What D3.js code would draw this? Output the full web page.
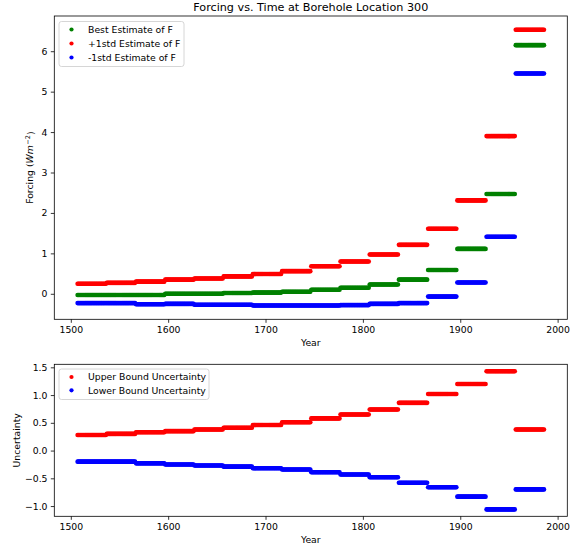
<!DOCTYPE html>
<html><head><meta charset="utf-8">
<script src="https://cdn.jsdelivr.net/npm/d3@7"></script>
<style>
body{margin:0;background:#fff}
svg{display:block;font-family:"DejaVu Sans",sans-serif}
</style>
</head><body>
<svg id="c" width="578" height="548"></svg>
<script>
// ---- data ----
const segmentStarts = [1507,1537,1567,1597,1627,1657,1687,1717,1747,1777,1807,1837,1867,1897,1927,1957];
const yearsPerSegment = 30;
const bestEstimate  = [-0.03,-0.03,-0.03,0.00,0.00,0.02,0.03,0.05,0.10,0.15,0.23,0.35,0.59,1.11,2.47,6.15];
const plusStd       = [0.25,0.27,0.30,0.35,0.38,0.43,0.49,0.56,0.68,0.80,0.97,1.21,1.61,2.31,3.90,6.53];
const minusStd      = [-0.23,-0.23,-0.26,-0.25,-0.27,-0.27,-0.29,-0.29,-0.29,-0.28,-0.25,-0.23,-0.07,0.28,1.41,5.45];
const upperUncert   = [0.28,0.30,0.33,0.35,0.38,0.41,0.46,0.51,0.58,0.65,0.74,0.86,1.02,1.20,1.43,0.38];
const lowerUncert   = [-0.20,-0.20,-0.23,-0.25,-0.27,-0.29,-0.32,-0.34,-0.39,-0.43,-0.48,-0.58,-0.66,-0.83,-1.06,-0.70];
const xTicks = [1500,1600,1700,1800,1900,2000];
const topYTicks = [0,1,2,3,4,5,6];
const bottomYTicks = [-1.0,-0.5,0.0,0.5,1.0,1.5];
const titleText = "Forcing vs. Time at Borehole Location 300";
const topLegend = ["Best Estimate of F","+1std Estimate of F","-1std Estimate of F"];
const bottomLegend = ["Upper Bound Uncertainty","Lower Bound Uncertainty"];

const GREEN="#008000", RED="#ff0000", BLUE="#0000ff";
const FS="9.3px";

// expand step levels to yearly points
function expand(levels){
  const pts=[];
  segmentStarts.forEach((s,i)=>{
    for(let k=0;k<yearsPerSegment;k++) pts.push([s+k, levels[i]]);
  });
  return pts;
}
function padded(arrs){
  const all=arrs.flat();
  const lo=d3.min(all), hi=d3.max(all), p=(hi-lo)*0.05;
  return [lo-p, hi+p];
}

const svg=d3.select("#c");
const L=54.3, R=567.3;
const firstYear=segmentStarts[0], lastYear=segmentStarts[segmentStarts.length-1]+yearsPerSegment-1;
const xPad=(lastYear-firstYear)*0.05;
const xDomain=[firstYear-xPad,lastYear+xPad];

function panel(top,bottom,series,yDomain,yTicks,fmt,legend,legendBox,ylabelX,ylabel){
  const x=d3.scaleLinear().domain(xDomain).range([L,R]);
  const y=d3.scaleLinear().domain(yDomain).range([bottom,top]);
  const g=svg.append("g");
  const clip="clip"+Math.round(top);
  svg.append("clipPath").attr("id",clip).append("rect").attr("x",L).attr("y",top).attr("width",R-L).attr("height",bottom-top);
  const pg=g.append("g").attr("clip-path",`url(#${clip})`);
  series.forEach(s=>{
    pg.append("g").selectAll("circle").data(expand(s.values)).join("circle")
      .attr("cx",d=>x(d[0])).attr("cy",d=>y(d[1])).attr("r",2.3).attr("fill",s.color);
  });
  const xa=g.append("g").attr("transform",`translate(0,${bottom})`)
    .call(d3.axisBottom(x).tickValues(xTicks).tickFormat(d3.format("d")).tickSize(3.5).tickPadding(3.3));
  const ya=g.append("g").attr("transform",`translate(${L},0)`)
    .call(d3.axisLeft(y).tickValues(yTicks).tickFormat(fmt).tickSize(3.5).tickPadding(3.3));
  [xa,ya].forEach(a=>{
    a.select(".domain").remove();
    a.selectAll("line").attr("stroke","#000").attr("stroke-width",0.8);
    a.selectAll("text").attr("font-size",FS).attr("fill","#000").attr("font-family","DejaVu Sans");
  });
  g.append("rect").attr("x",L).attr("y",top).attr("width",R-L).attr("height",bottom-top)
    .attr("fill","none").attr("stroke","#000").attr("stroke-width",0.8);
  // legend
  const lg=g.append("g");
  lg.append("rect").attr("x",legendBox.x).attr("y",legendBox.y).attr("width",legendBox.w).attr("height",legendBox.h)
    .attr("rx",2.5).attr("fill","#fff").attr("fill-opacity",0.8).attr("stroke","#cccccc").attr("stroke-width",0.8);
  legend.forEach((t,i)=>{
    const yy=legendBox.y+legendBox.r0+i*legendBox.dy;
    lg.append("circle").attr("cx",legendBox.x+12.5).attr("cy",yy).attr("r",2.1).attr("fill",series[i].color);
    lg.append("text").attr("x",legendBox.x+29).attr("y",yy).attr("dy","0.35em")
      .attr("font-size",FS).attr("fill","#000").text(t);
  });
  // labels
  g.append("text").attr("x",(L+R)/2).attr("y",bottom+23.5).attr("dy","0.35em").attr("text-anchor","middle")
    .attr("font-size",FS).attr("fill","#000").text("Year");
  const yl=g.append("text").attr("transform",`translate(${ylabelX},${(top+bottom)/2}) rotate(-90)`)
    .attr("text-anchor","middle").attr("dy","0.35em").attr("font-size",FS).attr("fill","#000");
  ylabel(yl);
}

svg.append("text").attr("x",(L+R)/2).attr("y",7.5).attr("dy","0.35em").attr("text-anchor","middle")
  .attr("font-size","11.2px").attr("fill","#000").text(titleText);

panel(16,319.3,
  [{values:bestEstimate,color:GREEN},{values:plusStd,color:RED},{values:minusStd,color:BLUE}],
  padded([bestEstimate,plusStd,minusStd]),topYTicks,d3.format("d"),
  topLegend,{x:59,y:21.5,w:125,h:45,r0:8,dy:14},29.5,
  t=>{t.append("tspan").text("Forcing (");
      t.append("tspan").attr("font-style","italic").text("Wm");
      t.append("tspan").attr("font-size","6.5px").attr("dy","-0.5em").attr("dx","0.5").text("−2");
      t.append("tspan").attr("dy","0.45em").text(")");});

panel(364.3,516.3,
  [{values:upperUncert,color:RED},{values:lowerUncert,color:BLUE}],
  padded([upperUncert,lowerUncert]),bottomYTicks,d3.format(".1f"),
  bottomLegend,{x:59,y:369,w:150,h:30.5,r0:8,dy:13.3},16.5,
  t=>t.text("Uncertainty"));
</script>
</body></html>
